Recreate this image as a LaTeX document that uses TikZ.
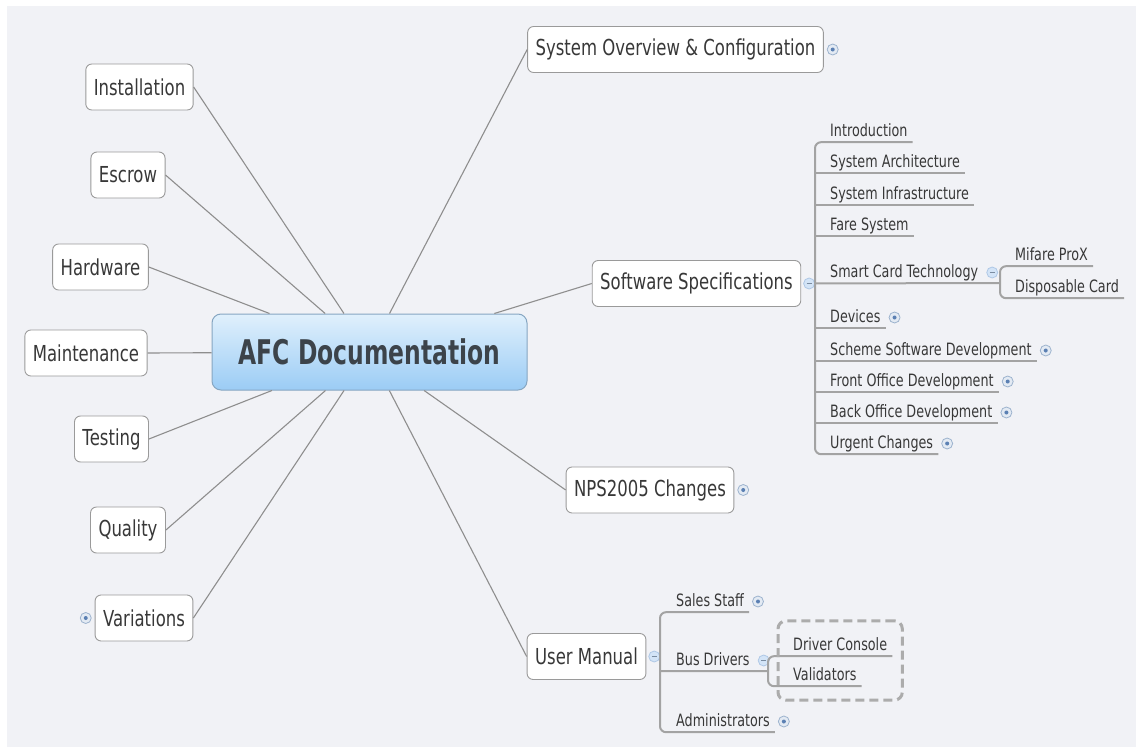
\documentclass[tikz,border=0pt]{standalone}
\usepackage{fontspec}
\setmainfont{DejaVu Sans}[FakeStretch=0.75]
\newfontfamily\rootfont{DejaVu Sans}[FakeStretch=0.69]
\usetikzlibrary{positioning,fit}

\definecolor{paper}{HTML}{F1F2F6}
\definecolor{ink}{HTML}{383838}
\definecolor{rootink}{HTML}{3C434A}
\definecolor{rim}{HTML}{9A9A9A}
\definecolor{wiregray}{HTML}{8E8E8E}
\definecolor{stemgray}{HTML}{A3A3A3}
\definecolor{roottop}{HTML}{E0F0FC}
\definecolor{rootbot}{HTML}{9BCCF5}
\definecolor{rootrim}{HTML}{86A6C2}
\definecolor{iconrim}{HTML}{9DB3CE}
\definecolor{iconfill}{HTML}{E3EAF3}
\definecolor{icondot}{HTML}{5B80B3}
\definecolor{foldfill}{HTML}{D3E4F7}
\definecolor{foldrim}{HTML}{AFC8E6}

\tikzset{
  topic/.style={draw=rim, fill=white, rounded corners=6pt, line width=.9pt,
    minimum height=46pt, inner xsep=8pt, text=ink,
    font=\fontsize{22}{26}\selectfont},
  root/.style={draw=rootrim, top color=roottop, bottom color=rootbot,
    rounded corners=9pt, line width=1pt, minimum width=315pt,
    minimum height=76pt, text=rootink,
    font=\rootfont\bfseries\fontsize{34}{39}\selectfont},
  item/.style={anchor=base west, inner xsep=5pt, inner ysep=2.5pt,
    text height=12.5pt, text depth=3.5pt, text=ink,
    font=\fontsize{17}{20}\selectfont},
  wire/.style={draw=wiregray, line width=1.1pt},
  stem/.style={draw=stemgray, line width=2pt, rounded corners=6pt},
  plusicon/.style={circle, draw=iconrim, fill=iconfill, line width=.8pt,
    minimum size=11pt, inner sep=0pt,
    path picture={\fill[icondot] (path picture bounding box.center) circle (2pt);}},
  foldicon/.style={circle, draw=foldrim, fill=foldfill, line width=.8pt,
    minimum size=11pt, inner sep=0pt,
    path picture={\draw[foldrim!70!black, line width=1pt]
      ([xshift=-2.5pt]path picture bounding box.center) --
      ([xshift=2.5pt]path picture bounding box.center);}},
  boundary/.style={draw=gray!65, dash pattern=on 9pt off 5pt,
    line width=3pt, rounded corners=8pt}
}

\begin{document}
\begin{tikzpicture}[x=1pt,y=-1pt]

\useasboundingbox (0,0) rectangle (1136,747);
\fill[white] (0,0) rectangle (1136,747);
\fill[paper] (7,6) rectangle (1136,747);

% central topic
\node[root] (afc) at (369.5,352) {AFC Documentation};

% left side
\node[topic] (inst)  at (139.5,87)  {Installation};
\node[topic] (escr)  at (128,175)   {Escrow};
\node[topic] (hard)  at (100.5,267) {Hardware};
\node[topic] (maint) at (86,353)    {Maintenance};
\node[topic] (test)  at (111.5,439) {Testing};
\node[topic] (qual)  at (128,530)   {Quality};
\node[topic] (vari)  at (144,618)   {Variations};
\node[plusicon, left=3pt of vari] (variplus) {};

% right side
\node[topic] (over) at (675.5,49.5) {System Overview \& Configuration};
\node[plusicon, right=3pt of over] (overplus) {};
\node[topic] (spec) at (696.5,283.5) {Software Specifications};
\node[foldicon, right=2pt of spec] (specfold) {};
\node[topic] (nps) at (650,490) {NPS2005 Changes};
\node[plusicon, right=3pt of nps] (npsplus) {};
\node[topic] (manual) at (586.5,656.5) {User Manual};
\node[foldicon, right=2pt of manual] (manualfold) {};

\foreach \n in {inst,escr,hard,maint,test,qual,vari}
  \draw[wire] (\n.east) -- (afc);
\foreach \n in {over,spec,nps,manual}
  \draw[wire] (afc) -- (\n.west);

% software specifications
\node[item] (intro)  at (825,136) {Introduction};
\node[item] (arch)   at (825,167) {System Architecture};
\node[item] (infra)  at (825,199) {System Infrastructure};
\node[item] (fare)   at (825,230) {Fare System};
\node[item] (smart)  at (825,277) {Smart Card Technology};
\node[foldicon, right=3pt of smart] (smartfold) {};
\node[item] (devs)   at (825,322) {Devices};
\node[plusicon, right=3pt of devs] (devsplus) {};
\node[item] (scheme) at (825,355) {Scheme Software Development};
\node[plusicon, right=3pt of scheme] (schemeplus) {};
\node[item] (front)  at (825,386) {Front Office Development};
\node[plusicon, right=3pt of front] (frontplus) {};
\node[item] (back)   at (825,417) {Back Office Development};
\node[plusicon, right=3pt of back] (backplus) {};
\node[item] (urgent) at (825,448) {Urgent Changes};
\node[plusicon, right=3pt of urgent] (urgentplus) {};

\coordinate (specstem) at (815,283);
\draw[stem] (intro.south east) -| (specstem) |- (urgent.south east);
\foreach \n in {arch,infra,fare,devs,scheme,front,back}
  \draw[stem] (specstem |- \n.south) -- (\n.south east);

\node[item] (mifare) at (1010,260) {Mifare ProX};
\node[item] (disp)   at (1010,292) {Disposable Card};
\coordinate (cardstem) at (1000,283);
\draw[stem] (specfold) -- (cardstem);
\draw[stem] (mifare.south east) -| (cardstem) |- (disp.south east);

% user manual
\node[item] (sales) at (671,606) {Sales Staff};
\node[plusicon, right=3pt of sales] (salesplus) {};
\node[item] (bus)   at (671,665) {Bus Drivers};
\node[foldicon, right=3pt of bus] (busfold) {};
\node[item] (admin) at (671,726) {Administrators};
\node[plusicon, right=3pt of admin] (adminplus) {};

\coordinate (manualstem) at (660,657);
\draw[stem] (manualfold) -- (manualstem);
\draw[stem] (sales.south east) -| (manualstem) |- (admin.south east);

\coordinate (busstem) at (768,671);
\draw[stem] (manualstem |- bus.south) -- (busstem);
\node[item] (console) at (788,650) {Driver Console};
\node[item] (valid)   at (788,680) {Validators};
\draw[stem] (console.south east) -| (busstem) |- (valid.south east);
\node[boundary, fit=(console)(valid), inner xsep=10pt, inner ysep=14pt] (busgroup) {};

\end{tikzpicture}
\end{document}
